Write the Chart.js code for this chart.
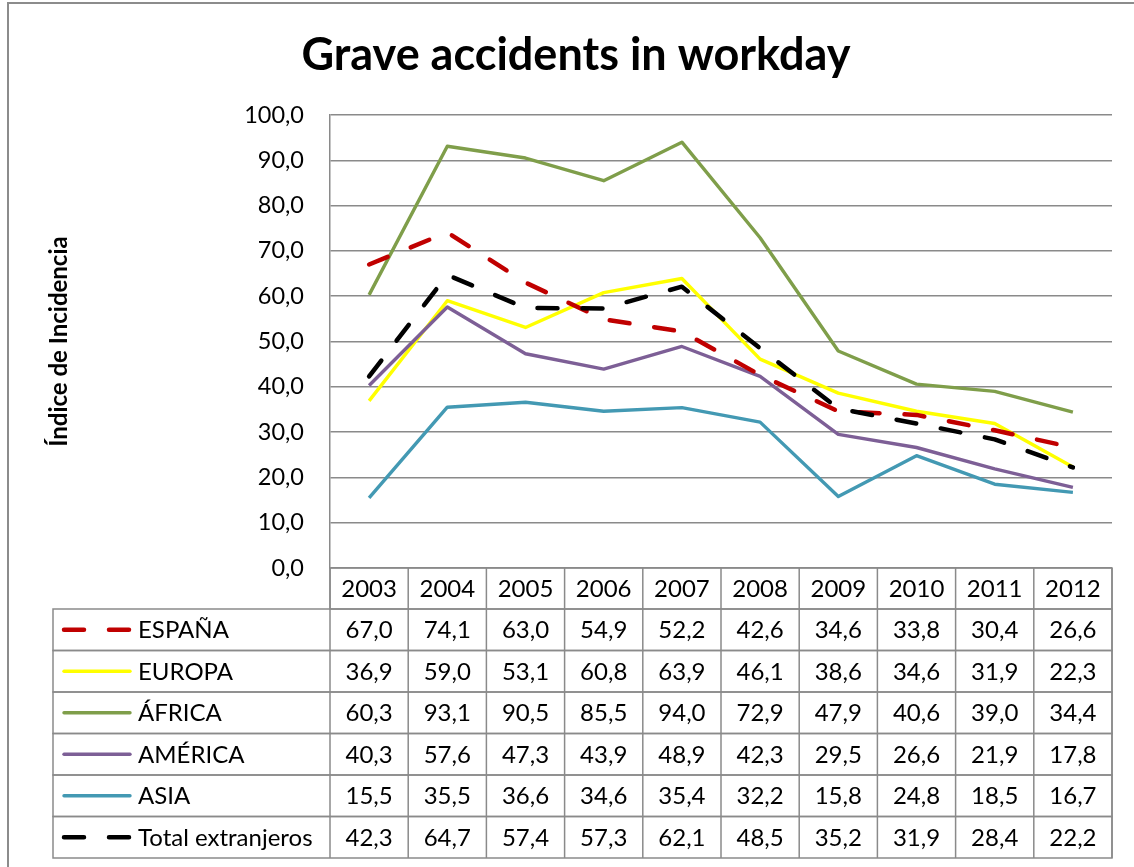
<!DOCTYPE html>
<html>
<head>
<meta charset="utf-8">
<script src="https://cdn.jsdelivr.net/npm/chart.js@4.4.1/dist/chart.umd.min.js"></script>
<style>
  body { margin: 0; background: #fff; }
  #wrap { position: relative; width: 1134px; height: 867px; }
</style>
</head>
<body>
<div id="wrap"><canvas id="accidentChart" width="1134" height="867"></canvas></div>
<script>
// categories
const years = ['2003', '2004', '2005', '2006', '2007', '2008', '2009', '2010', '2011', '2012'];

// series values (índice de incidencia)
const espana = [67.0, 74.1, 63.0, 54.9, 52.2, 42.6, 34.6, 33.8, 30.4, 26.6];
const europa = [36.9, 59.0, 53.1, 60.8, 63.9, 46.1, 38.6, 34.6, 31.9, 22.3];
const africa = [60.3, 93.1, 90.5, 85.5, 94.0, 72.9, 47.9, 40.6, 39.0, 34.4];
const america = [40.3, 57.6, 47.3, 43.9, 48.9, 42.3, 29.5, 26.6, 21.9, 17.8];
const asia = [15.5, 35.5, 36.6, 34.6, 35.4, 32.2, 15.8, 24.8, 18.5, 16.7];
const totalExtranjeros = [42.3, 64.7, 57.4, 57.3, 62.1, 48.5, 35.2, 31.9, 28.4, 22.2];

const seriesNames = ['ESPAÑA', 'EUROPA', 'ÁFRICA', 'AMÉRICA', 'ASIA', 'Total extranjeros'];

// y axis ticks
const yMin = 0;
const yMax = 100;
const yStep = 10;

const FONT = 'Lato, "Open Sans", sans-serif';
const GRID = '#8a8a8a';

function fmt(v) {
    return v.toFixed(1).replace('.', ',');
}

// Excel style data table under the plot, columns follow the x scale
const dataTablePlugin = {
    id: 'dataTable',
    afterDraw(chart) {
        const ctx = chart.ctx;
        const xScale = chart.scales.x;
        const area = chart.chartArea;
        const n = years.length;
        const colW = (area.right - area.left) / n;
        const headerH = 41;
        const rowH = 41.5;
        const legendLeft = 53;
        const top = area.bottom;

        ctx.save();
        ctx.strokeStyle = GRID;
        ctx.lineWidth = 1.5;

        // header row (years)
        ctx.strokeRect(area.left, top, area.right - area.left, headerH);
        // body rows
        const bodyTop = top + headerH;
        for (let r = 0; r < seriesNames.length; r++) {
            ctx.strokeRect(legendLeft, bodyTop + r * rowH, area.right - legendLeft, rowH);
        }
        // column separators
        for (let i = 0; i <= n; i++) {
            const x = area.left + i * colW;
            ctx.beginPath();
            ctx.moveTo(x, top);
            ctx.lineTo(x, bodyTop + seriesNames.length * rowH);
            ctx.stroke();
        }

        ctx.fillStyle = '#000';
        ctx.font = '24px ' + FONT;
        ctx.textAlign = 'center';
        ctx.textBaseline = 'middle';
        years.forEach((y, i) => {
            ctx.fillText(y, xScale.getPixelForValue(i), top + headerH / 2 + 1);
        });

        chart.data.datasets.forEach((ds, r) => {
            const cy = bodyTop + r * rowH + rowH / 2 + 1;
            // legend key
            ctx.save();
            ctx.strokeStyle = ds.borderColor;
            ctx.lineWidth = ds.borderWidth;
            ctx.lineCap = 'round';
            ctx.setLineDash(ds.borderDash || []);
            ctx.beginPath();
            ctx.moveTo(64, cy - 1);
            ctx.lineTo(130, cy - 1);
            ctx.stroke();
            ctx.restore();

            ctx.textAlign = 'left';
            ctx.fillText(ds.label, 138, cy);
            ctx.textAlign = 'center';
            ds.data.forEach((v, i) => {
                ctx.fillText(fmt(v), xScale.getPixelForValue(i), cy);
            });
        });

        // outer chart border (only top and left are visible in the crop)
        ctx.strokeStyle = '#8c8c8c';
        ctx.lineWidth = 2;
        ctx.beginPath();
        ctx.moveTo(8, 870);
        ctx.lineTo(8, 3);
        ctx.lineTo(1140, 3);
        ctx.stroke();
        ctx.restore();
    }
};

const dashed = [20, 25];

new Chart(document.getElementById('accidentChart'), {
    type: 'line',
    data: {
        labels: years,
        datasets: [
            { label: seriesNames[0], data: espana, borderColor: '#C00000', borderWidth: 4.5, borderDash: dashed, borderCapStyle: 'round', order: 1 },
            { label: seriesNames[1], data: europa, borderColor: '#FFFF00', borderWidth: 3.4, order: 4 },
            { label: seriesNames[2], data: africa, borderColor: '#7F9E4A', borderWidth: 3.4, order: 5 },
            { label: seriesNames[3], data: america, borderColor: '#7D5F96', borderWidth: 3.4, order: 3 },
            { label: seriesNames[4], data: asia, borderColor: '#4399B3', borderWidth: 3.4, order: 6 },
            { label: seriesNames[5], data: totalExtranjeros, borderColor: '#000000', borderWidth: 4.5, borderDash: dashed, borderCapStyle: 'round', order: 0 }
        ].map(ds => Object.assign({ pointRadius: 0, pointHoverRadius: 0, tension: 0, fill: false, borderJoinStyle: 'round' }, ds))
    },
    options: {
        responsive: false,
        animation: false,
        layout: {
            padding: { left: 40, right: 22, top: 0, bottom: 299 }
        },
        plugins: {
            legend: { display: false },
            tooltip: { enabled: false },
            title: {
                display: true,
                text: 'Grave accidents in workday',
                color: '#000',
                font: { family: FONT, size: 45, weight: 'bold' },
                padding: { top: 28, bottom: 33 }
            }
        },
        scales: {
            x: {
                display: false,
                offset: true
            },
            y: {
                min: yMin,
                max: yMax,
                afterFit(scale) { scale.width = 290; },
                ticks: {
                    stepSize: yStep,
                    color: '#000',
                    padding: 26,
                    font: { family: FONT, size: 23.5 },
                    callback: v => fmt(v)
                },
                grid: { color: GRID, lineWidth: 1.5, drawTicks: false },
                border: { color: GRID, width: 1.5 },
                title: {
                    display: true,
                    text: 'Índice de Incidencia',
                    color: '#000',
                    font: { family: FONT, size: 24, weight: 'bold' },
                    padding: { top: 5, bottom: 0 }
                }
            }
        }
    },
    plugins: [dataTablePlugin]
});
</script>
</body>
</html>
